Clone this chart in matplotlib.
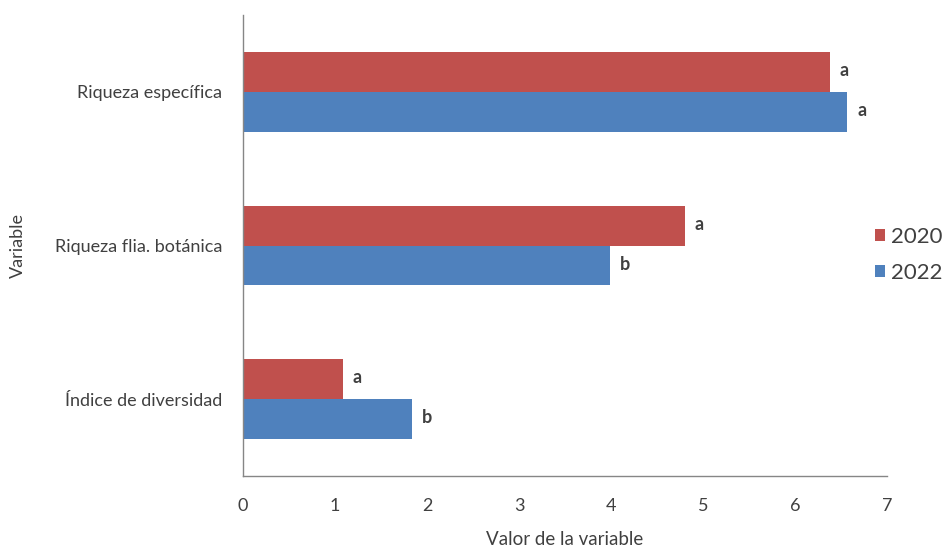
import matplotlib
matplotlib.use("Agg")
import matplotlib.pyplot as plt
import numpy as np

plt.rcParams['font.family'] = ['Lato', 'DejaVu Sans']

categories = ["Índice de diversidad", "Riqueza flia. botánica", "Riqueza específica"]
values_2020 = [1.09, 4.80, 6.38]
values_2022 = [1.84, 3.99, 6.57]
letters_2020 = ["a", "a", "a"]
letters_2022 = ["b", "b", "a"]
series_labels = ["2020", "2022"]
x_ticks = [0, 1, 2, 3, 4, 5, 6, 7]

red = "#C0504D"
blue = "#4F81BD"
text_color = "#404040"

fig = plt.figure(figsize=(9.44, 5.48), dpi=100)
ax = fig.add_axes([0.2574, 0.1314, 0.6822, 0.8412])

y = np.arange(len(categories))
h = 0.26
b1 = ax.barh(y + h / 2, values_2020, height=h, color=red, label=series_labels[0])
b2 = ax.barh(y - h / 2, values_2022, height=h, color=blue, label=series_labels[1])

# significance letters next to each bar end
for yi, v, t in zip(y + h / 2, values_2020, letters_2020):
    ax.annotate(t, (v, yi), xytext=(7, 1), textcoords="offset points",
                va="center", ha="left", fontsize=13, fontweight="bold", color=text_color)
for yi, v, t in zip(y - h / 2, values_2022, letters_2022):
    ax.annotate(t, (v, yi), xytext=(7, 1), textcoords="offset points",
                va="center", ha="left", fontsize=13, fontweight="bold", color=text_color)

ax.set_xlim(0, 7)
ax.set_ylim(-0.5, 2.5)
ax.set_xticks(x_ticks)
ax.set_yticks(y)
ax.set_yticklabels(categories)
ax.tick_params(axis="both", length=0, labelsize=13, colors=text_color)
ax.tick_params(axis="y", pad=15)
ax.tick_params(axis="x", pad=16)

for s in ["top", "right"]:
    ax.spines[s].set_visible(False)
for s in ["left", "bottom"]:
    ax.spines[s].set_color("#868686")
    ax.spines[s].set_linewidth(1.0)

ax.set_xlabel("Valor de la variable", fontsize=13.5, color=text_color, labelpad=12)
fig.text(18 / 944, 1 - 245 / 548, "Variable", rotation=90, ha="center", va="center",
         fontsize=13, color=text_color)

fig.legend(handles=[b1, b2], labels=series_labels, loc="center left",
           bbox_to_anchor=(875 / 944, 1 - 255 / 548), frameon=False, fontsize=16,
           handlelength=0.45, handleheight=0.45, handletextpad=0.25,
           labelspacing=0.75, borderpad=0, borderaxespad=0,
           labelcolor=text_color)

fig.savefig("out.png", dpi=100)
